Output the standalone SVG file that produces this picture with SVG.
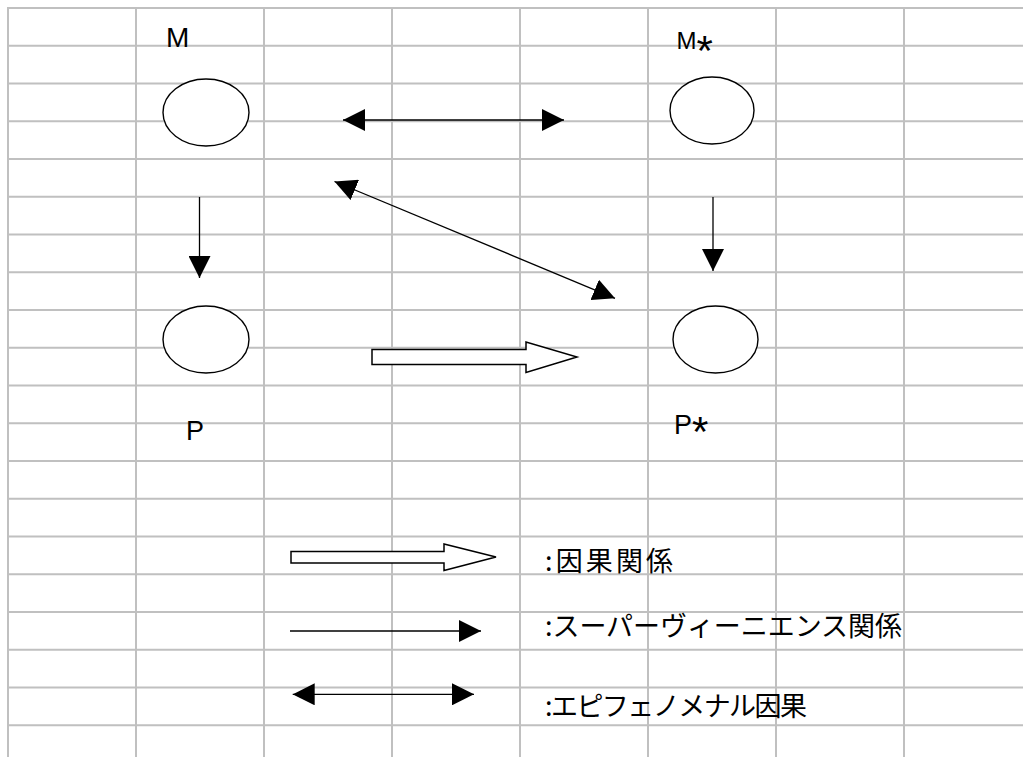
<svg xmlns="http://www.w3.org/2000/svg" width="1023" height="757" viewBox="0 0 1023 757">
<style>
.grid{stroke:#c0c0c0;stroke-width:2;fill:none}
.node{fill:#ffffff;stroke:#000000;stroke-width:1.4}
.lbl{font-family:"Liberation Sans",Arial,sans-serif;fill:#000000}
.conn{stroke:#000000;stroke-width:1.3;fill:none}
.block{fill:#ffffff;stroke:#000000;stroke-width:1.5;stroke-linejoin:miter}
.leg{font-family:"Noto Sans CJK JP","Noto Sans",sans-serif;font-size:27px;fill:#000000}
</style>
<defs>
<marker id="ah" viewBox="0 0 22 22" refX="22" refY="11" markerWidth="22" markerHeight="22" markerUnits="userSpaceOnUse" orient="auto-start-reverse">
<path d="M0,0 L22,11 L0,22 z" fill="#000000"/>
</marker>
</defs>
<rect x="0" y="0" width="1023" height="757" fill="#ffffff"/>
<g id="grid">
<path class="grid" d="M8,8 H1023 M8,45.75 H1023 M8,83.5 H1023 M8,121.25 H1023 M8,159 H1023 M8,196.75 H1023 M8,234.5 H1023 M8,272.25 H1023 M8,310 H1023 M8,347.75 H1023 M8,385.5 H1023 M8,423.25 H1023 M8,461 H1023 M8,498.75 H1023 M8,536.5 H1023 M8,574.25 H1023 M8,612 H1023 M8,649.75 H1023 M8,687.5 H1023 M8,725.25 H1023 M8,7 V757 M136,7 V757 M264,7 V757 M392,7 V757 M520,7 V757 M648,7 V757 M776,7 V757 M904,7 V757"/>
</g>
<g id="node-M">
<ellipse class="node" cx="206" cy="112.5" rx="43" ry="33.5"/>
<text class="lbl" x="166" y="47" font-size="28px">M</text>
</g>
<g id="node-Mstar">
<ellipse class="node" cx="712" cy="110.5" rx="42" ry="33.5"/>
<text class="lbl" x="676.5" y="48.5" font-size="24px">M<tspan font-size="42px" dy="16">*</tspan></text>
</g>
<g id="node-P">
<ellipse class="node" cx="206" cy="339.5" rx="43" ry="33.5"/>
<text class="lbl" x="186" y="440" font-size="27px">P</text>
</g>
<g id="node-Pstar">
<ellipse class="node" cx="715.5" cy="339.5" rx="42.5" ry="33.5"/>
<text class="lbl" x="674" y="433.5" font-size="27px">P<tspan font-size="42px" dy="12">*</tspan></text>
</g>
<g id="connectors">
<path class="conn" d="M343,120 H564" marker-start="url(#ah)" marker-end="url(#ah)"/>
<path class="conn" d="M334.5,181.5 L615,298.3" marker-start="url(#ah)" marker-end="url(#ah)"/>
<path class="conn" d="M199.5,197 V278" marker-end="url(#ah)"/>
<path class="conn" d="M713,197 V271" marker-end="url(#ah)"/>
<polygon class="block" points="372,349.5 526,349.5 526,342 577,357 526,372.5 526,364.5 372,364.5"/>
</g>
<g id="legend">
<polygon class="block" points="291,551.5 444,551.5 444,544 496,557 444,570.5 444,563 291,563"/>
<path class="conn" d="M290,631 H481" marker-end="url(#ah)"/>
<path class="conn" d="M292.7,694.3 H474" marker-start="url(#ah)" marker-end="url(#ah)"/>
<text class="leg" x="545" y="570.5" textLength="128" lengthAdjust="spacing">:因果関係</text>
<text class="leg" x="545" y="635.5" textLength="357" lengthAdjust="spacing">:スーパーヴィーニエンス関係</text>
<text class="leg" x="545" y="715.5" textLength="262" lengthAdjust="spacing">:エピフェノメナル因果</text>
</g>
</svg>
